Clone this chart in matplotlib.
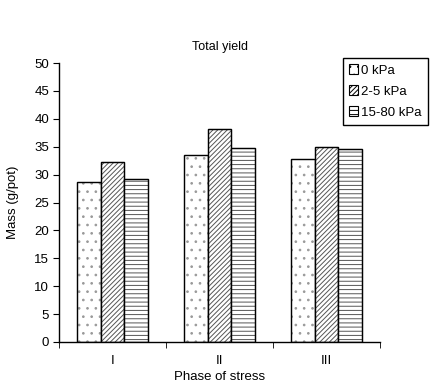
import matplotlib.pyplot as plt
import numpy as np

plt.rcParams['font.family'] = ['Liberation Sans', 'DejaVu Sans']
plt.rcParams['hatch.linewidth'] = 0.7

# data
phases = ["I", "II", "III"]
series = ["0 kPa", "2-5 kPa", "15-80 kPa"]
vals_0 = [28.7, 33.5, 32.8]
vals_25 = [32.2, 38.1, 35.0]
vals_1580 = [29.2, 34.7, 34.5]

hatches = ['..', '///////', '----']
hatch_cols = ['#999999', '#555555', '#555555']

fig = plt.figure(figsize=(4.34, 3.86), dpi=100)
ax = fig.add_axes([59 / 434, 44 / 386, 321 / 434, 279 / 386])

x = np.arange(len(phases))
w = 0.224
for i, (vals, lab, h, hc) in enumerate(zip([vals_0, vals_25, vals_1580], series, hatches, hatch_cols)):
    ax.bar(x + (i - 1) * w, vals, w, label=lab, color='white', edgecolor=hc,
           hatch=h, linewidth=0.8)
    ax.bar(x + (i - 1) * w, vals, w, color='none', edgecolor='black', linewidth=1.0)

ax.set_xlim(-0.5, 2.5)
ax.set_ylim(0, 50)
ax.set_yticks(np.arange(0, 51, 5))
ax.set_xticks(x)
ax.set_xticklabels(phases)
ax.set_xticks([-0.5, 0.5, 1.5, 2.5], minor=True)
ax.tick_params(axis='x', which='major', length=0, pad=9)
ax.tick_params(axis='x', which='minor', length=4, direction='out')
ax.tick_params(axis='y', length=4, direction='out', labelsize=9.5, pad=3)
ax.tick_params(axis='x', labelsize=9.5)
for s in ['top', 'right']:
    ax.spines[s].set_visible(False)
for s in ['left', 'bottom']:
    ax.spines[s].set_linewidth(1.0)

ax.set_ylabel("Mass (g/pot)", fontsize=9.5, labelpad=11)
ax.set_xlabel("Phase of stress", fontsize=9.5, labelpad=3)
fig.text(220 / 434, 1 - 47 / 386, "Total yield", ha='center', va='center', fontsize=9)

leg = fig.legend(loc='upper left', bbox_to_anchor=(343 / 434, 1 - 58 / 386), fancybox=False,
                 edgecolor='black', fontsize=9.5, handlelength=0.7, handleheight=0.8,
                 handletextpad=0.25, borderpad=0.45, labelspacing=0.65, framealpha=1,
                 borderaxespad=0)
for p in leg.get_patches():
    p.set_edgecolor('black')

plt.savefig("out.png", dpi=100)
